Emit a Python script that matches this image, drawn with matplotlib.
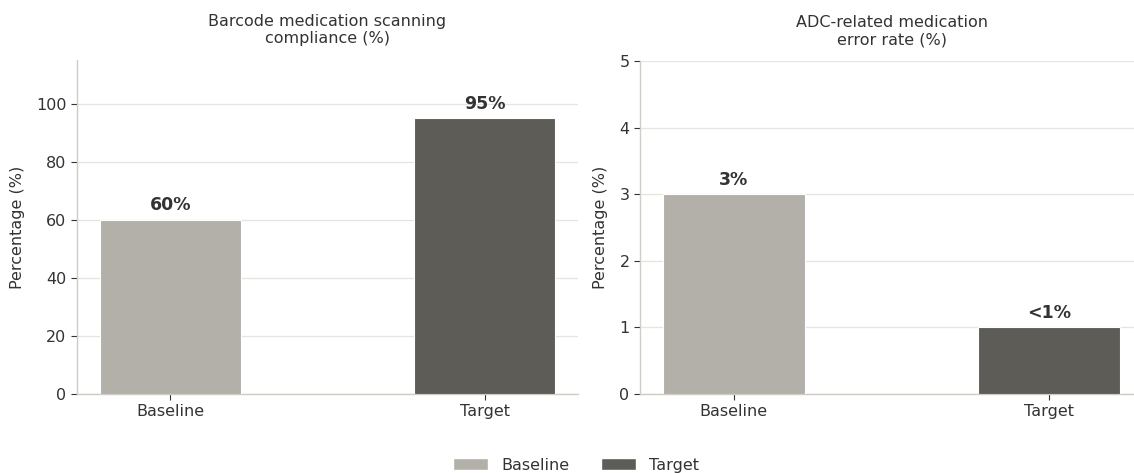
import matplotlib
matplotlib.use("Agg")
import matplotlib.pyplot as plt
from matplotlib.patches import Patch

categories = ["Baseline", "Target"]
scan_compliance = [60, 95]
scan_labels = ["60%", "95%"]
adc_error_rate = [3, 1]
adc_labels = ["3%", "<1%"]

titles = ["Barcode medication scanning\ncompliance (%)", "ADC-related medication\nerror rate (%)"]
ylims = [(0, 115), (0, 5)]
bar_colors = ["#b3b0a9", "#5e5c57"]
text_color = "#333333"
grid_color = "#e6e4dd"
spine_color = "#cfccc2"

plt.rcParams["font.family"] = ["DejaVu Sans"]

fig = plt.figure(figsize=(11.34, 4.73), dpi=100)
fig.patch.set_facecolor("white")
ax1 = fig.add_axes([0.0679, 0.167, 0.4418, 0.706])
ax2 = fig.add_axes([0.5644, 0.167, 0.4436, 0.704])

panels = [
    (ax1, scan_compliance, scan_labels),
    (ax2, adc_error_rate, adc_labels),
]

for i, (ax, vals, labels) in enumerate(panels):
    x = list(range(len(categories)))
    bars = ax.bar(x, vals, width=0.45, color=bar_colors, edgecolor="white",
                  linewidth=0.8, zorder=3)
    for b, lab in zip(bars, labels):
        ax.annotate(lab, (b.get_x() + b.get_width() / 2, b.get_height()),
                    xytext=(0, 4), textcoords="offset points",
                    ha="center", va="bottom", fontsize=12.5,
                    fontweight="bold", color=text_color)
    ax.set_xticks(x)
    ax.set_xticklabels(categories)
    ax.set_ylim(*ylims[i])
    ax.set_title(titles[i], fontsize=11.5, color=text_color, pad=12)
    ax.set_ylabel("Percentage (%)", fontsize=11.5, color=text_color, labelpad=8)
    ax.yaxis.grid(True, color=grid_color, linewidth=0.9, zorder=0)
    ax.set_axisbelow(True)
    for side in ("top", "right"):
        ax.spines[side].set_visible(False)
    for side in ("left", "bottom"):
        ax.spines[side].set_color(spine_color)
        ax.spines[side].set_linewidth(1.0)
    ax.tick_params(axis="both", labelsize=11.5, colors=text_color,
                   color=text_color, length=4, width=0.8)

ax1.set_yticks([0, 20, 40, 60, 80, 100])
ax2.set_yticks([0, 1, 2, 3, 4, 5])

handles = [Patch(facecolor=c, edgecolor="white", label=l)
           for c, l in zip(bar_colors, categories)]
fig.legend(handles=handles, loc="lower center", ncol=2, frameon=False,
           fontsize=11.5, bbox_to_anchor=(0.508, -0.03), handlelength=2.2,
           handleheight=0.8, columnspacing=2.0, labelcolor=text_color)

fig.savefig("out.png", dpi=100, facecolor="white")
